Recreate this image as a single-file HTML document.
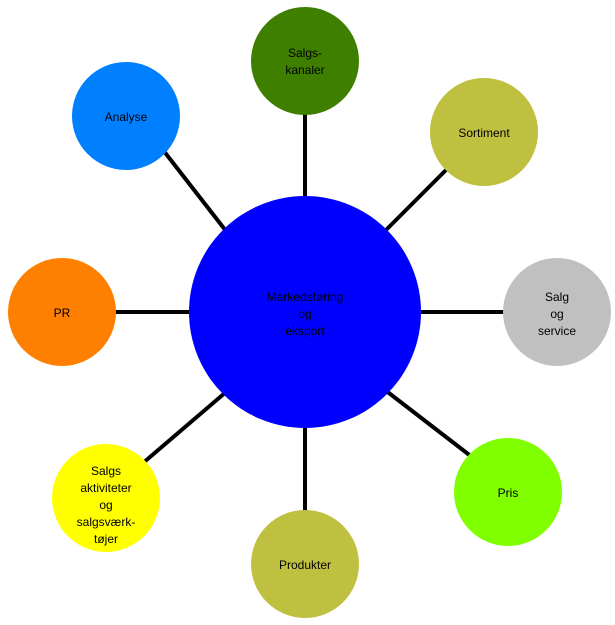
<!DOCTYPE html>
<html><head><style>body{margin:0;background:#fff}</style></head><body>
<svg width="615" height="620" xmlns="http://www.w3.org/2000/svg" font-family="Liberation Sans, DejaVu Sans, sans-serif" font-size="12" text-anchor="middle">
<g stroke="#000" stroke-width="4">
<line x1="305" y1="110" x2="305" y2="200"/>
<line x1="163" y1="150" x2="226" y2="231"/>
<line x1="449" y1="167" x2="383" y2="233"/>
<line x1="418" y1="312" x2="508" y2="312"/>
<line x1="385" y1="390" x2="472" y2="457"/>
<line x1="305" y1="424" x2="305" y2="513"/>
<line x1="143" y1="463" x2="226" y2="392"/>
<line x1="113" y1="312" x2="193" y2="312"/>
</g>
<circle cx="305" cy="312" r="116" fill="#0000ff"/>
<circle cx="305" cy="61" r="54" fill="#3f7f00"/>
<circle cx="126" cy="116" r="54" fill="#0080ff"/>
<circle cx="484" cy="132" r="54" fill="#c0c040"/>
<circle cx="557" cy="312" r="54" fill="#c0c0c0"/>
<circle cx="508" cy="492" r="54" fill="#80ff00"/>
<circle cx="305" cy="564" r="54" fill="#c0c040"/>
<circle cx="106" cy="498" r="54" fill="#ffff00"/>
<circle cx="62" cy="312" r="54" fill="#ff7f00"/>
<text x="305" y="301">Markedsføring</text><text x="305" y="318">og</text><text x="305" y="335">eksport</text>
<text x="305" y="57">Salgs-</text><text x="305" y="74">kanaler</text>
<text x="126" y="121">Analyse</text>
<text x="484" y="137">Sortiment</text>
<text x="557" y="301">Salg</text><text x="557" y="318">og</text><text x="557" y="335">service</text>
<text x="508" y="497">Pris</text>
<text x="305" y="569">Produkter</text>
<text x="106" y="475">Salgs</text><text x="106" y="492">aktiviteter</text><text x="106" y="509">og</text><text x="106" y="526">salgsværk-</text><text x="106" y="543">tøjer</text>
<text x="62" y="317">PR</text>
</svg>
</body></html>
